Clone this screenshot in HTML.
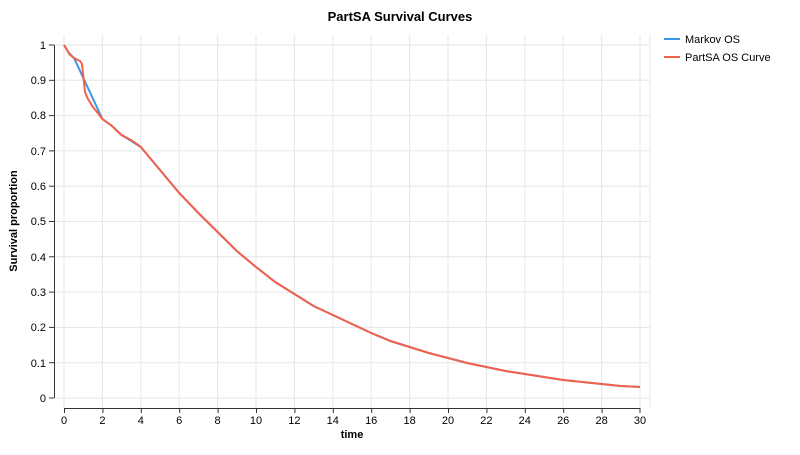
<!DOCTYPE html><html><head><style>body{margin:0;background:#fff}svg{font-family:"Liberation Sans",Arial,sans-serif}</style></head><body>
<svg width="800" height="450" viewBox="0 0 800 450">
<g stroke="#e6e6e6" stroke-width="1">
<line x1="54" x2="650" y1="45" y2="45"/><line x1="54" x2="650" y1="80.3" y2="80.3"/><line x1="54" x2="650" y1="115.6" y2="115.6"/><line x1="54" x2="650" y1="150.9" y2="150.9"/><line x1="54" x2="650" y1="186.2" y2="186.2"/><line x1="54" x2="650" y1="221.5" y2="221.5"/><line x1="54" x2="650" y1="256.8" y2="256.8"/><line x1="54" x2="650" y1="292.1" y2="292.1"/><line x1="54" x2="650" y1="327.4" y2="327.4"/><line x1="54" x2="650" y1="362.7" y2="362.7"/><line x1="54" x2="650" y1="398" y2="398"/>
<line x1="64" x2="64" y1="35" y2="408"/><line x1="102.4" x2="102.4" y1="35" y2="408"/><line x1="140.8" x2="140.8" y1="35" y2="408"/><line x1="179.2" x2="179.2" y1="35" y2="408"/><line x1="217.6" x2="217.6" y1="35" y2="408"/><line x1="256" x2="256" y1="35" y2="408"/><line x1="294.4" x2="294.4" y1="35" y2="408"/><line x1="332.8" x2="332.8" y1="35" y2="408"/><line x1="371.2" x2="371.2" y1="35" y2="408"/><line x1="409.6" x2="409.6" y1="35" y2="408"/><line x1="448" x2="448" y1="35" y2="408"/><line x1="486.4" x2="486.4" y1="35" y2="408"/><line x1="524.8" x2="524.8" y1="35" y2="408"/><line x1="563.2" x2="563.2" y1="35" y2="408"/><line x1="601.6" x2="601.6" y1="35" y2="408"/><line x1="640" x2="640" y1="35" y2="408"/><line x1="650" x2="650" y1="35" y2="408"/>
</g>
<g stroke="#333" stroke-width="1" fill="none">
<line x1="54.5" x2="54.5" y1="45" y2="398"/>
<line x1="64" x2="640" y1="408.5" y2="408.5"/>
</g>
<g stroke="#333" stroke-width="1">
<line x1="49" x2="54" y1="45" y2="45"/><line x1="49" x2="54" y1="80.3" y2="80.3"/><line x1="49" x2="54" y1="115.6" y2="115.6"/><line x1="49" x2="54" y1="150.9" y2="150.9"/><line x1="49" x2="54" y1="186.2" y2="186.2"/><line x1="49" x2="54" y1="221.5" y2="221.5"/><line x1="49" x2="54" y1="256.8" y2="256.8"/><line x1="49" x2="54" y1="292.1" y2="292.1"/><line x1="49" x2="54" y1="327.4" y2="327.4"/><line x1="49" x2="54" y1="362.7" y2="362.7"/><line x1="49" x2="54" y1="398" y2="398"/>
<line x1="64.5" x2="64.5" y1="408" y2="413"/><line x1="102.9" x2="102.9" y1="408" y2="413"/><line x1="141.3" x2="141.3" y1="408" y2="413"/><line x1="179.7" x2="179.7" y1="408" y2="413"/><line x1="218.1" x2="218.1" y1="408" y2="413"/><line x1="256.5" x2="256.5" y1="408" y2="413"/><line x1="294.9" x2="294.9" y1="408" y2="413"/><line x1="333.3" x2="333.3" y1="408" y2="413"/><line x1="371.7" x2="371.7" y1="408" y2="413"/><line x1="410.1" x2="410.1" y1="408" y2="413"/><line x1="448.5" x2="448.5" y1="408" y2="413"/><line x1="486.9" x2="486.9" y1="408" y2="413"/><line x1="525.3" x2="525.3" y1="408" y2="413"/><line x1="563.7" x2="563.7" y1="408" y2="413"/><line x1="602.1" x2="602.1" y1="408" y2="413"/><line x1="640" x2="640" y1="408" y2="413"/>
</g>
<g font-size="11" fill="#000" text-anchor="end">
<text x="46" y="49">1</text><text x="46" y="84">0.9</text><text x="46" y="119">0.8</text><text x="46" y="155">0.7</text><text x="46" y="190">0.6</text><text x="46" y="225">0.5</text><text x="46" y="261">0.4</text><text x="46" y="296">0.3</text><text x="46" y="331">0.2</text><text x="46" y="367">0.1</text><text x="46" y="402">0</text>
</g>
<g font-size="11" fill="#000" text-anchor="middle">
<text x="64" y="424">0</text><text x="102.4" y="424">2</text><text x="140.8" y="424">4</text><text x="179.2" y="424">6</text><text x="217.6" y="424">8</text><text x="256" y="424">10</text><text x="294.4" y="424">12</text><text x="332.8" y="424">14</text><text x="371.2" y="424">16</text><text x="409.6" y="424">18</text><text x="448" y="424">20</text><text x="486.4" y="424">22</text><text x="524.8" y="424">24</text><text x="563.2" y="424">26</text><text x="601.6" y="424">28</text><text x="640" y="424">30</text>
</g>
<text x="352" y="438" font-size="11" font-weight="bold" text-anchor="middle">time</text>
<text transform="translate(17,221) rotate(-90)" font-size="11" font-weight="bold" text-anchor="middle">Survival proportion</text>
<text x="400" y="21" font-size="13" font-weight="bold" text-anchor="middle">PartSA Survival Curves</text>
<polyline fill="none" stroke="#3e95e8" stroke-width="2" points="64,45 69,53 74,58 102.4,119 112,126 121.6,135 140.8,147 160,170 179.2,193 198.4,213 217.6,232 236.8,251 256,267 275.2,282 294.4,294 313.6,306 332.8,315 352,324 371.2,333 390.4,341 409.6,347 428.8,353 448,358 467.2,363 486.4,367 505.6,371 524.8,374 544,377 563.2,380 582.4,382 601.6,384 620.8,386 640,387"/>
<polyline fill="none" stroke="#f4604a" stroke-width="2" points="64,45 67,50 70,55 74,58 80,61 82,64 85,92 88,99 93,107 97,112 102.4,119 108,123 112,126 116,130 121.6,135 131,140 137,144 140.8,147 160,170 179.2,193 198.4,213 217.6,232 236.8,251 256,267 275.2,282 294.4,294 313.6,306 332.8,315 352,324 371.2,333 390.4,341 409.6,347 428.8,353 448,358 467.2,363 486.4,367 505.6,371 524.8,374 544,377 563.2,380 582.4,382 601.6,384 620.8,386 640,387"/>
<line x1="664" x2="680" y1="39" y2="39" stroke="#3e95e8" stroke-width="2"/>
<line x1="664" x2="680" y1="57" y2="57" stroke="#f4604a" stroke-width="2"/>
<text x="685" y="43" font-size="11">Markov OS</text>
<text x="685" y="61" font-size="11">PartSA OS Curve</text>
</svg></body></html>
